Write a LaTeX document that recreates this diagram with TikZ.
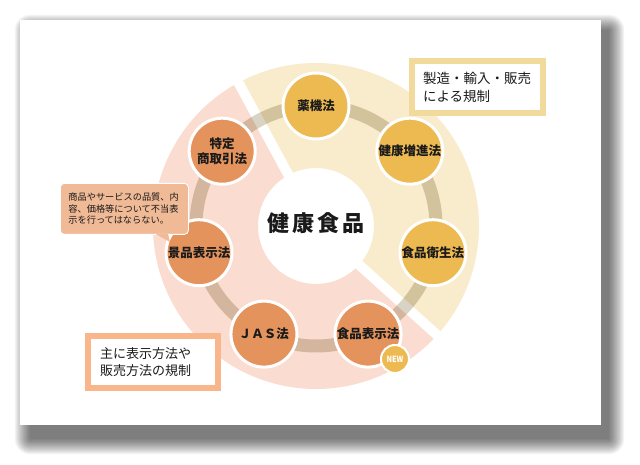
\documentclass[tikz,border=0pt]{standalone}
\usepackage{fontspec}
\setmainfont{Noto Sans CJK JP}
\usetikzlibrary{calc}
\definecolor{ysec}{HTML}{F8ECCD}
\definecolor{psec}{HTML}{FADDD0}
\definecolor{ynode}{HTML}{EDBA52}
\definecolor{onode}{HTML}{E5935D}
\definecolor{bandc}{HTML}{D9D3C4}
\definecolor{ybox}{HTML}{F2D99C}
\definecolor{obox}{HTML}{F8B68A}
\definecolor{callc}{HTML}{F0BA96}
\definecolor{txt}{HTML}{1A1A1A}
\begin{document}
\begin{tikzpicture}[x=1pt,y=1pt,
  law/.style={circle, minimum size=66pt, inner sep=0pt, draw=white, line width=3pt,
    font=\fontsize{12.5}{15}\selectfont\bfseries, text=txt, align=center},
  ylaw/.style={law, fill=ynode},
  olaw/.style={law, fill=onode},
  framebox/.style={rectangle, fill=white, line width=6pt, align=left,
    font=\fontsize{13.5}{18}\selectfont, text=txt, minimum height=52pt, inner ysep=0pt}
]
\useasboundingbox (0,0) rectangle (640,464);
\fill[white] (0,0) rectangle (640,464);
% soft drop shadow
\foreach \r in {0,...,22}{
  \pgfmathsetmacro{\d}{0.7*\r}
  \fill[black, opacity=0.028, rounded corners=\d pt] (30-\d,25-\d) rectangle (609+\d,434+\d);
}
% card
\fill[white] (20,39) rectangle (601,444);

\begin{scope}[shift={(316,238)}]
  % sectors
  \fill[ysec] (-42:58) -- (-42:163) arc[start angle=-42, end angle=118.4, radius=163]
    -- (118.4:58) arc[start angle=118.4, end angle=-42, radius=58] -- cycle;
  \fill[psec] (118.4:58) -- (118.4:163) arc[start angle=118.4, end angle=318, radius=163]
    -- (318:58) arc[start angle=318, end angle=118.4, radius=58] -- cycle;
  % gaps
  \draw[white, line width=10pt] (0,0) -- (118.4:180);
  \draw[white, line width=10pt] (0,0) -- (-42:180);
  % ring band
  \begin{scope}[blend mode=multiply]
    \draw[bandc, line width=13pt] (0,0) circle[radius=120];
  \end{scope}
  % law nodes
  \node[ylaw] (yakki) at (90:120) {薬機法};
  \node[ylaw] (kenko) at (38.57:120) {健康増進法};
  \node[ylaw] (eisei) at (-12.86:120) {食品衛生法};
  \node[olaw] (hyoji) at (-64.29:120) {食品表示法};
  \node[olaw] (jas) at (-115.71:120) {ＪＡＳ法};
  \node[olaw] (keihin) at (-167.14:120) {景品表示法};
  \node[olaw] (tokutei) at (141.43:120) {特定\\商取引法};
  % center
  \node[font=\fontsize{22}{22}\selectfont\bfseries, text=txt] (center) at (0,3)
    {健\hspace{3.3pt}康\hspace{3.3pt}食\hspace{3.3pt}品};
\end{scope}

% NEW badge
\node[circle, fill=ynode, draw=white, line width=2pt, minimum size=28pt, inner sep=0pt,
  text=white, font=\fontsize{8.5}{8.5}\selectfont\bfseries] (new) at (395,105)
  {\scalebox{0.85}[1]{NEW}};

% frame boxes
\node[framebox, draw=ybox, text width=109pt, inner xsep=11pt, anchor=north west]
  (boxY) at (409,406) {製造・輸入・販売\\による規制};
\node[framebox, draw=obox, text width=106pt, inner xsep=12pt, font=\fontsize{13}{17}\selectfont, anchor=north west]
  (boxO) at (85,131) {主に表示方法や\\販売方法の規制};

% callout
\node[rectangle, rounded corners=4pt, fill=callc, draw=white, line width=0.8pt,
  text width=112pt, inner xsep=8pt, inner ysep=0pt, minimum height=51pt, align=left,
  font=\fontsize{9.2}{11.5}\selectfont, text=txt, anchor=north west]
  (call) at (60,281) {商品やサービスの品質、内\\容、価格等について不当表\\示を行ってはならない。};
\coordinate (tip) at (170,222);
\fill[callc] ($(call.south west)+(96,0.6)$) -- ($(call.south west)+(108,0.6)$) -- (tip) -- cycle;
\end{tikzpicture}
\end{document}
